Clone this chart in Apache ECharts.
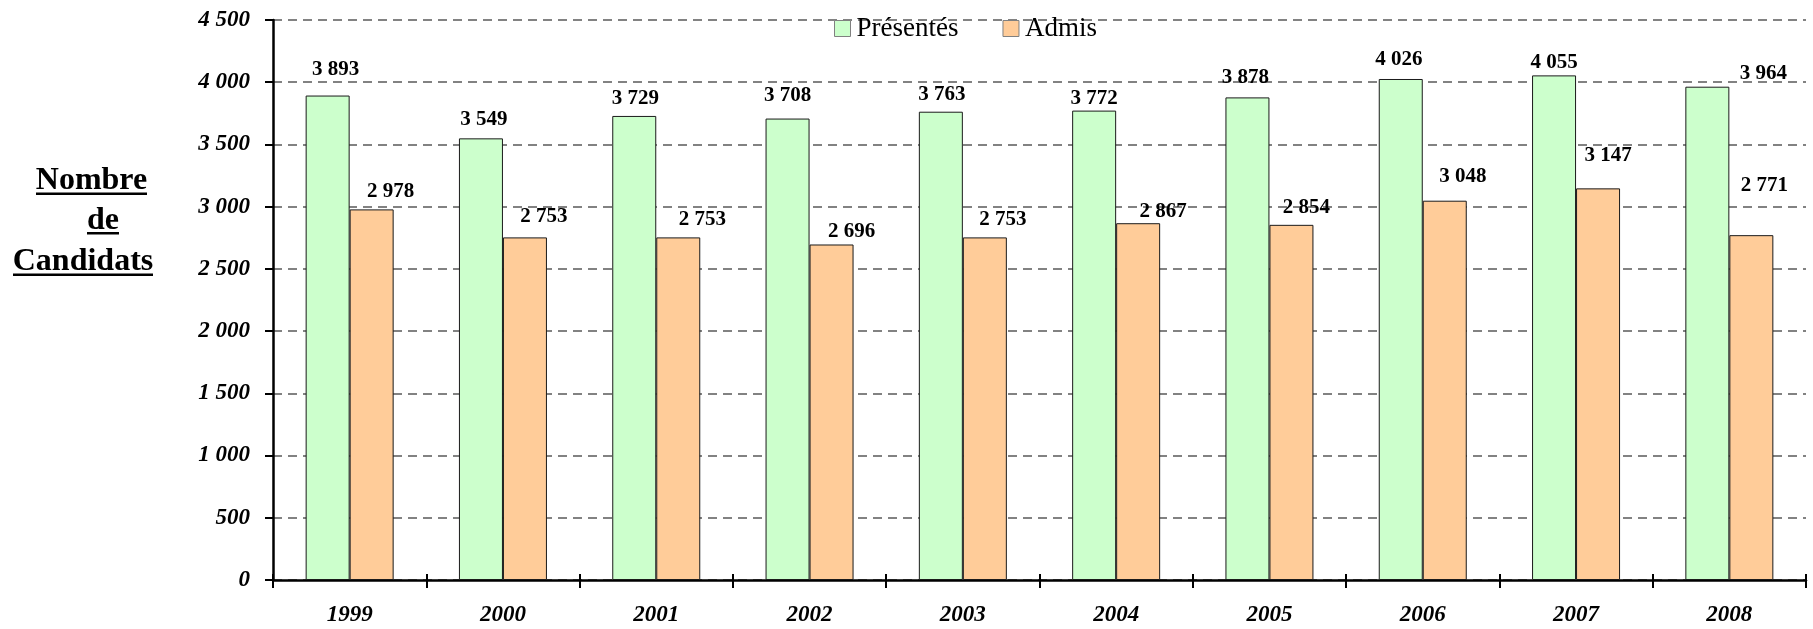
<!DOCTYPE html>
<html>
<head>
<meta charset="utf-8">
<script src="https://cdn.jsdelivr.net/npm/echarts@6/dist/echarts.min.js"></script>
<style>
html,body{margin:0;padding:0;background:#fff;}
#chart{width:1813px;height:629px;}
</style>
</head>
<body>
<div id="chart"></div>
<script>
const categories = ['1999','2000','2001','2002','2003','2004','2005','2006','2007','2008'];
const presentes = [3893, 3549, 3729, 3708, 3763, 3772, 3878, 4026, 4055, 3964];
const admis = [2978, 2753, 2753, 2696, 2753, 2867, 2854, 3048, 3147, 2771];
const yTicks = {min: 0, max: 4500, interval: 500};
const seriesNames = ['Présentés', 'Admis'];
// label nudges (as placed in the original chart)
const presentesLabelShift = [[8,-15.5],[3,-8.5],[1,-6.5],[0,-12.5],[1,-6.5],[0,-1.5],[-2,-9.5],[-2,-8.5],[0,-2.5],[56,-2.5]];
const admisLabelShift = [[19,-7.5],[19,-10.5],[24,-7.5],[20,-2.5],[18,-7.5],[25,-1.5],[15,-6.5],[18,-13.5],[10,-22.5],[13,-39.5]];

const SERIF = '"Liberation Serif","Times New Roman",serif';
function fmt(v){ return String(v).replace(/\B(?=(\d{3})+(?!\d))/g, ' '); }

function buildData(vals, shifts){
  return vals.map((v,i)=>({value:v, label:{offset:shifts[i]}}));
}

const chart = echarts.init(document.getElementById('chart'), null, {renderer:'canvas'});
const labelStyle = {show:true, position:'top', distance:0, fontFamily:SERIF, fontWeight:'bold', fontSize:21, color:'#000', formatter:p=>fmt(p.value)};

const option = {
  backgroundColor:'#fff',
  animation:false,
  legend:{
    data:seriesNames, left:834, top:15, itemWidth:16, itemHeight:16, itemGap:44, padding:0,
    icon:'rect',
    textStyle:{fontFamily:SERIF, fontSize:27, color:'#000', padding:[0,0,0,1]},
    itemStyle:{borderColor:'#808080', borderWidth:1}
  },
  grid:{left:273, right:7, top:20, bottom:49, containLabel:false},
  xAxis:[{
    type:'category', data:categories, position:'bottom',
    axisLine:{show:true, lineStyle:{color:'#000', width:2.5}},
    axisTick:{show:true, length:8, lineStyle:{color:'#000', width:2}},
    axisLabel:{margin:24, fontFamily:SERIF, fontWeight:'bold', fontStyle:'italic', fontSize:23, color:'#000'},
    splitLine:{show:false}
  },{
    type:'category', data:categories, position:'bottom', gridIndex:0,
    axisLine:{show:false},
    axisTick:{show:true, inside:true, length:6, lineStyle:{color:'#000', width:2}},
    axisLabel:{show:false}, splitLine:{show:false}
  }],
  yAxis:{
    type:'value', min:yTicks.min, max:yTicks.max, interval:yTicks.interval,
    axisLine:{show:true, lineStyle:{color:'#000', width:2.5}},
    axisTick:{show:true, length:8, lineStyle:{color:'#000', width:2}},
    axisLabel:{margin:23, fontFamily:SERIF, fontWeight:'bold', fontStyle:'italic', fontSize:23, color:'#000', formatter:v=>fmt(v)},
    splitLine:{show:true, lineStyle:{color:'#5a5a5a', width:1.5, type:[9,6]}}
  },
  series:[{
    name:seriesNames[0], type:'bar', xAxisIndex:0, barWidth:44, barGap:'0%',
    itemStyle:{color:'#CCFFCC', borderColor:'#1a1a1a', borderWidth:1},
    label:labelStyle,
    data:buildData(presentes, presentesLabelShift)
  },{
    name:seriesNames[1], type:'bar', xAxisIndex:0, barWidth:44, barGap:'0%',
    itemStyle:{color:'#FFCC99', borderColor:'#1a1a1a', borderWidth:1},
    label:labelStyle,
    data:buildData(admis, admisLabelShift)
  }],
  graphic:[
    {type:'text', style:{text:'Nombre', x:91.5, y:181, align:'center', verticalAlign:'middle', font:'bold 32px '+SERIF, fill:'#000'}},
    {type:'rect', shape:{x:36, y:192.5, width:111, height:2.5}, style:{fill:'#000'}},
    {type:'text', style:{text:'de', x:103, y:221, align:'center', verticalAlign:'middle', font:'bold 32px '+SERIF, fill:'#000'}},
    {type:'rect', shape:{x:87, y:232, width:32, height:2.5}, style:{fill:'#000'}},
    {type:'text', style:{text:'Candidats', x:83, y:262, align:'center', verticalAlign:'middle', font:'bold 32px '+SERIF, fill:'#000'}},
    {type:'rect', shape:{x:13, y:273.5, width:140, height:2.5}, style:{fill:'#000'}}
  ]
};
chart.setOption(option);
</script>
</body>
</html>
